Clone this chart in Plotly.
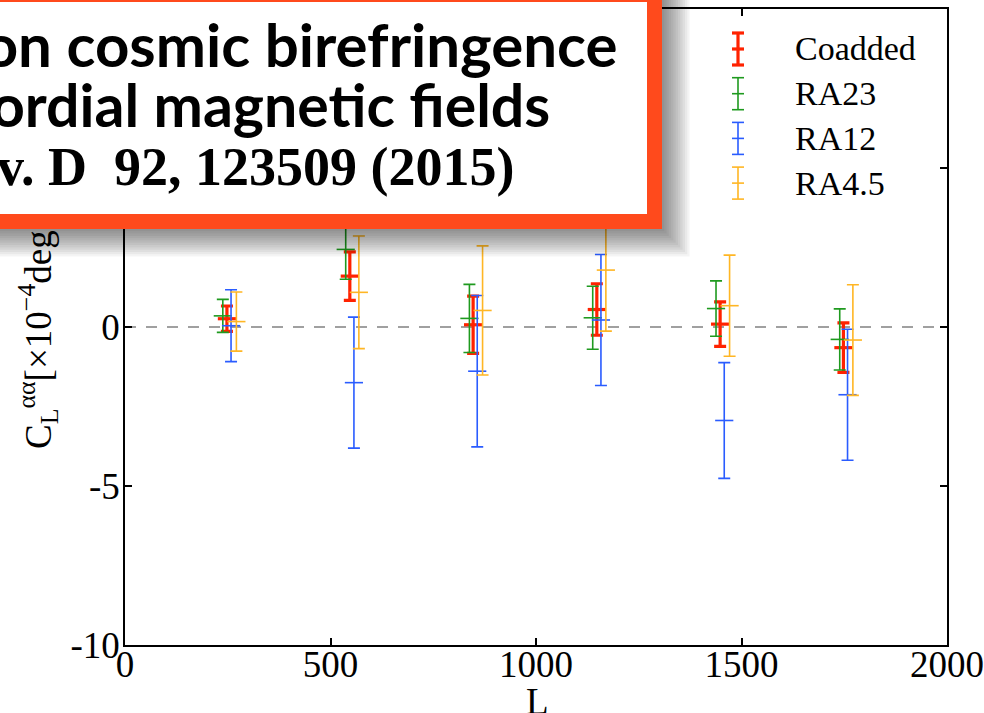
import plotly.graph_objects as go

# ---------------- data ----------------
bin_L_coadded = [248, 547, 847, 1148, 1448, 1748]
bin_L_ra23 = [238, 537, 838, 1138, 1438, 1739]
bin_L_ra12 = [258, 557, 857, 1158, 1458, 1758]
bin_L_ra45 = [271, 569, 870, 1170, 1471, 1771]

coadded_val = [0.26, 1.60, 0.07, 0.55, 0.09, -0.65]
coadded_err = [0.40, 0.76, 0.90, 0.81, 0.70, 0.78]
ra23_val = [0.35, 2.44, 0.27, 0.29, 0.58, -0.39]
ra23_err = [0.52, 0.94, 1.07, 0.99, 0.87, 0.96]
ra12_val = [0.04, -1.75, -1.39, 0.22, -2.94, -2.13]
ra12_err = [1.13, 2.06, 2.38, 2.06, 1.82, 2.06]
ra45_val = [0.17, 1.09, 0.52, 1.79, 0.67, -0.41]
ra45_err = [0.93, 1.77, 2.03, 1.92, 1.59, 1.74]

series_names = ["Coadded", "RA23", "RA12", "RA4.5"]
x_tickvals = [0, 500, 1000, 1500, 2000]
x_ticktext = ["0", "500", "1000", "1500", "2000"]
y_tickvals = [-10, -5, 0, 5, 10]
y_ticktext = ["-10", "-5", "0", "5", "10"]
x_title = "L"
y_title = "C<sub>L</sub><sup>αα</sup>[×10<sup>−4</sup>deg<sup>2</sup>]"

box_lines = [
    "POLARBEAR constraints on cosmic birefringence",
    "and primordial magnetic fields",
    "Phys. Rev. D  92, 123509 (2015)",
]

# ---------------- styling ----------------
W, H = 984, 713
ML, MR, MT, MB = 125, 37, 9, 68
PW, PH = W - ML - MR, H - MT - MB

colors = ["#ff2200", "#1f9a1f", "#2a5cff", "#ffb624"]
widths = [3.2, 1.6, 1.6, 1.6]
SERIF = "Liberation Serif"


def px_x(p):
    return (p - ML) / PW


def px_y(p):
    return (MT + PH - p) / PH


fig = go.Figure()

all_x = [bin_L_coadded, bin_L_ra23, bin_L_ra12, bin_L_ra45]
all_v = [coadded_val, ra23_val, ra12_val, ra45_val]
all_e = [coadded_err, ra23_err, ra12_err, ra45_err]

for name, xs, vs, es, c, lw in zip(series_names, all_x, all_v, all_e, colors, widths):
    fig.add_trace(go.Scatter(
        x=xs, y=vs, mode="markers", name=name, showlegend=False,
        marker=dict(symbol="line-ew", size=13, color=c, line=dict(color=c, width=lw)),
        error_y=dict(type="data", array=es, visible=True, color=c,
                     thickness=lw, width=6),
        hoverinfo="skip",
    ))

shapes = []
# dashed zero line
shapes.append(dict(type="line", xref="x", yref="y", x0=0, x1=2000, y0=0, y1=0,
                   line=dict(color="#a0a0a0", width=2, dash="11px,10px"), layer="below"))

# legend icons (errorbar glyphs)
leg_x_icon = 738
leg_x_text = 793
leg_y0 = 49
leg_dy = 44.7
half_h = 16
half_c = 6
annotations = []
for i, (name, c, lw) in enumerate(zip(series_names, colors, widths)):
    cy = leg_y0 + i * leg_dy
    shapes.append(dict(type="line", xref="paper", yref="paper",
                       x0=px_x(leg_x_icon), x1=px_x(leg_x_icon),
                       y0=px_y(cy - half_h), y1=px_y(cy + half_h),
                       line=dict(color=c, width=lw)))
    for yy in (cy - half_h, cy, cy + half_h):
        shapes.append(dict(type="line", xref="paper", yref="paper",
                           x0=px_x(leg_x_icon - half_c), x1=px_x(leg_x_icon + half_c),
                           y0=px_y(yy), y1=px_y(yy),
                           line=dict(color=c, width=lw)))
    annotations.append(dict(xref="paper", yref="paper", x=px_x(leg_x_text), y=px_y(cy),
                            xanchor="left", yanchor="middle", showarrow=False,
                            text=name, font=dict(family=SERIF, size=34, color="black")))

# x-axis title
annotations.append(dict(xref="paper", yref="paper", x=px_x(537), y=px_y(679),
                        xanchor="center", yanchor="top", showarrow=False, text=x_title,
                        font=dict(family=SERIF, size=37, color="black")))

# overlay box: soft shadow (shapes), then box and its text (annotations, drawn on top)
box_right, box_bottom, box_top, box_left = 662, 229, -13, -700
for k in range(1, 13):
    r = box_right + 2.3 * k
    b = box_bottom + 2.3 * k
    shapes.append(dict(type="rect", xref="paper", yref="paper",
                       x0=px_x(box_left), x1=px_x(r), y0=px_y(b), y1=px_y(box_top),
                       line=dict(width=0), fillcolor="rgba(0,0,0,0.045)", layer="above"))
annotations.append(dict(xref="paper", yref="paper", x=px_x(box_right), y=px_y(box_bottom),
                        xanchor="right", yanchor="bottom", showarrow=False, text=" ",
                        width=box_right - box_left - 32, height=box_bottom - box_top - 32,
                        borderpad=1, borderwidth=15, bordercolor="#ff4a1c", bgcolor="white"))

line_right = [619, 551, 515]
line_mid = [44, 104, 167]
line_font = [dict(family="Lato", size=60, color="black", weight="bold"),
             dict(family="Lato", size=59, color="black", weight="bold"),
             dict(family=SERIF, size=54, color="black", weight="bold")]
for txt, xr, ym, f in zip(box_lines, line_right, line_mid, line_font):
    annotations.append(dict(xref="paper", yref="paper", x=px_x(xr), y=px_y(ym),
                            xanchor="right", yanchor="middle", showarrow=False,
                            text=txt, font=f, borderpad=0))

axis_common = dict(showline=True, linecolor="black", linewidth=1.5, mirror="ticks",
                   ticks="inside", ticklen=7, tickwidth=1.5, tickcolor="black",
                   showgrid=False, zeroline=False,
                   tickfont=dict(family=SERIF, size=37, color="black"))

fig.update_layout(
    width=W, height=H,
    margin=dict(l=ML, r=MR, t=MT, b=MB, autoexpand=False),
    paper_bgcolor="white", plot_bgcolor="white",
    showlegend=False,
    xaxis=dict(range=[0, 2000], tickvals=x_tickvals, ticktext=x_ticktext,
               ticklabelstandoff=-14, **axis_common),
    yaxis=dict(range=[-10, 10], tickvals=y_tickvals, ticktext=y_ticktext,
               ticklabelstandoff=-4,
               title=dict(text=y_title,
                          font=dict(family=SERIF, size=37, color="black"), standoff=8),
               **axis_common),
    shapes=shapes,
    annotations=annotations,
)

fig.write_html("out.html")
